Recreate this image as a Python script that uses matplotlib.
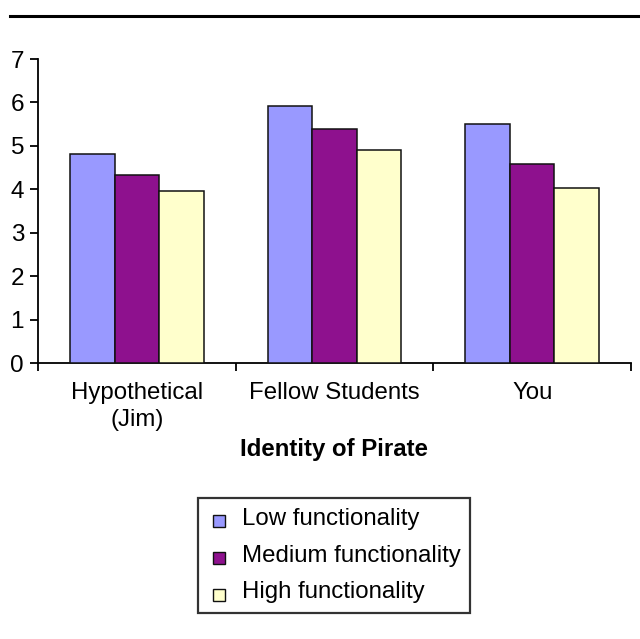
import numpy as np
import matplotlib.pyplot as plt
from matplotlib.patches import Patch, Rectangle
from matplotlib.legend_handler import HandlerPatch

plt.rcParams['font.family'] = ['Liberation Sans', 'DejaVu Sans']

groups = ["Hypothetical\n(Jim)", "Fellow Students", "You"]
series = ["Low functionality", "Medium functionality", "High functionality"]
low = [4.81, 5.92, 5.50]
medium = [4.34, 5.39, 4.59]
high = [3.96, 4.90, 4.02]
colors = ["#9999FF", "#8E118E", "#FFFFCC"]
yticks = [0, 1, 2, 3, 4, 5, 6, 7]


def small_square(legend, orig_handle, xdescent, ydescent, width, height, fontsize):
    # legend key: a small square sitting a little right of and below the default box
    return Rectangle((-xdescent + 3.9, -ydescent - 2.0), 8.6, 8.6)


fig = plt.figure(figsize=(6.4, 6.39), dpi=100)
ax = fig.add_axes([38 / 640, 1 - 363 / 639, (631 - 38) / 640, (363 - 59) / 639])

x = np.arange(len(groups))
width = 0.225
for i, (vals, name) in enumerate(zip([low, medium, high], series)):
    ax.bar(x + (i - 1) * width, vals, width, color=colors[i],
           edgecolor="#111111", linewidth=1.1, label=name, zorder=3)

ax.set_xlim(-0.5, len(groups) - 0.5)
ax.set_ylim(0, 7)
ax.set_yticks(yticks)
ax.set_xticks(x)
ax.set_xticklabels(groups, fontsize=17.3, linespacing=1.25)
ax.set_xticks(np.arange(len(groups) + 1) - 0.5, minor=True)
ax.tick_params(axis="x", which="major", length=0, pad=14)
ax.tick_params(axis="x", which="minor", length=6, width=1.3, direction="out")
ax.tick_params(axis="y", length=6, width=1.3, direction="out", labelsize=17.5, pad=4)
for s in ["top", "right"]:
    ax.spines[s].set_visible(False)
for s in ["left", "bottom"]:
    ax.spines[s].set_linewidth(1.3)
ax.set_xlabel("Identity of Pirate", fontsize=17.3, fontweight="bold", labelpad=5)

# rule under the title
fig.add_artist(plt.Line2D([10 / 640, 1.0], [1 - 16 / 639, 1 - 16 / 639],
                          color="black", linewidth=2.2))

handles = [Patch(facecolor=c, edgecolor="#111111", linewidth=1.0) for c in colors]
leg = fig.legend(handles, series, loc="upper left",
                 bbox_to_anchor=(198 / 640, 1 - 498 / 639),
                 fontsize=17.3, frameon=True, fancybox=False,
                 edgecolor="black", handlelength=0.72, handleheight=0.7,
                 handletextpad=0.7, labelspacing=0.62, borderpad=0.4,
                 borderaxespad=0,
                 handler_map={Patch: HandlerPatch(patch_func=small_square)})
leg.get_frame().set_linewidth(1.6)

fig.savefig("out.png", dpi=100)
